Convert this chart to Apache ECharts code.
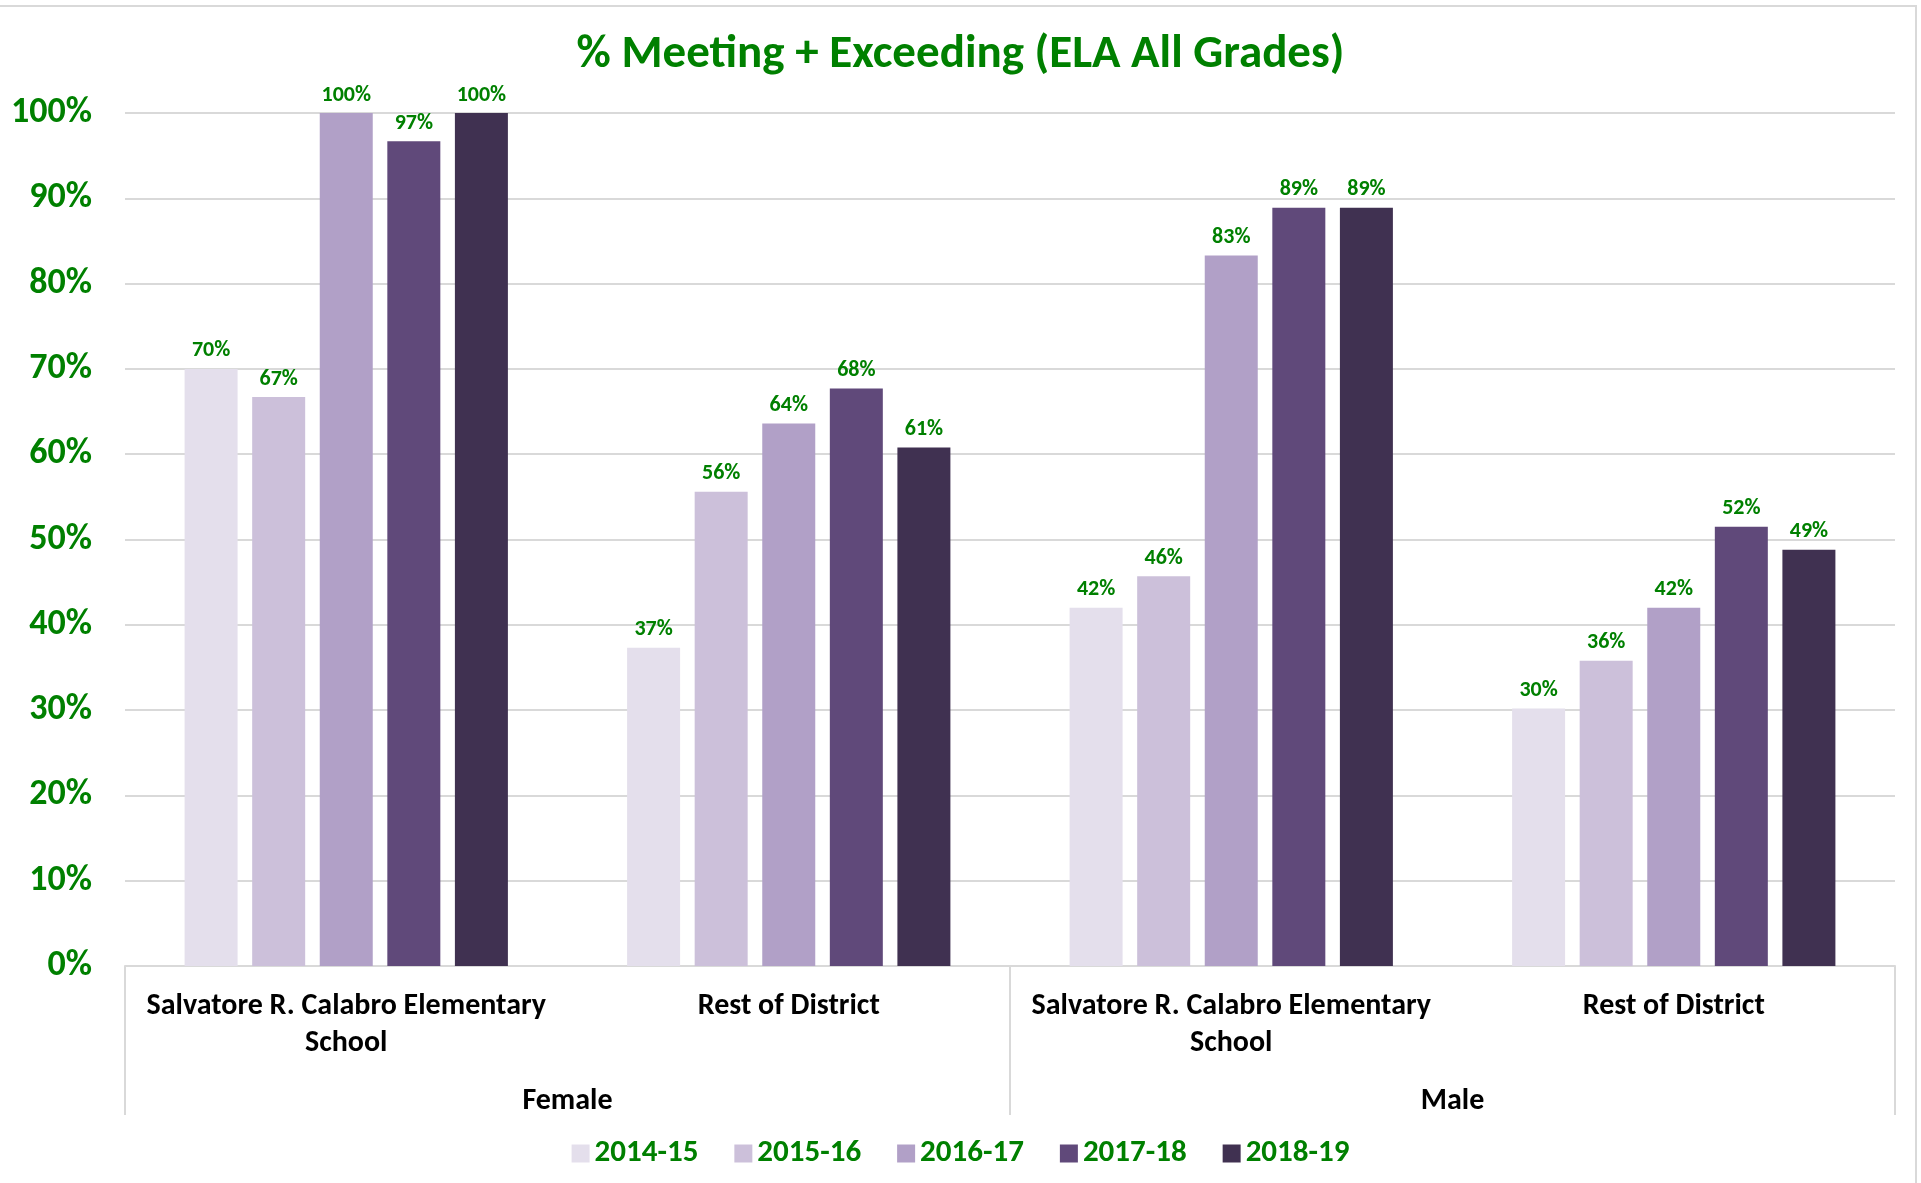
<!DOCTYPE html>
<html>
<head>
<meta charset="utf-8">
<title>% Meeting + Exceeding (ELA All Grades)</title>
<script src="https://cdn.jsdelivr.net/npm/echarts@6/dist/echarts.min.js"></script>
<style>
  html, body { margin: 0; padding: 0; background: #fff; }
  #chart { width: 1921px; height: 1183px; }
</style>
</head>
<body>
<div id="chart"></div>
<script>
// data
const schools = ['Salvatore R. Calabro Elementary\nSchool', 'Rest of District', 'Salvatore R. Calabro Elementary\nSchool', 'Rest of District']
const genders = ['Female', 'Male']
const years = ['2014-15', '2015-16', '2016-17', '2017-18', '2018-19']
const y2014 = [70.0, 37.3, 42.0, 30.2]
const y2015 = [66.7, 55.6, 45.7, 35.8]
const y2016 = [100, 63.6, 83.3, 42.0]
const y2017 = [96.7, 67.7, 88.9, 51.5]
const y2018 = [100, 60.8, 88.9, 48.8]
const colors = ['#E4DFEC', '#CCC0DA', '#B1A0C7', '#60497A', '#403151']

const FONT = 'Carlito, Lato, sans-serif'
const GREEN = '#008000'
const LINE = '#d9d9d9'

const values = [y2014, y2015, y2016, y2017, y2018]

const chart = echarts.init(document.getElementById('chart'))

const option = {
  animation: false,
  textStyle: { fontFamily: FONT },
  title: {
    text: '% Meeting + Exceeding (ELA All Grades)',
    left: 'center',
    top: 27,
    textStyle: { color: GREEN, fontSize: 47, fontWeight: 'bold', fontFamily: FONT }
  },
  legend: {
    data: years,
    left: 'center',
    top: 1133,
    itemWidth: 18,
    itemHeight: 18,
    itemGap: 36,
    icon: 'rect',
    textStyle: { color: GREEN, fontSize: 31, fontWeight: 'bold', fontFamily: FONT }
  },
  grid: { left: 125, right: 26, top: 113, bottom: 217 },
  xAxis: [
    {
      type: 'category',
      data: schools,
      axisLine: { lineStyle: { color: LINE, width: 2 } },
      axisTick: { show: false },
      axisLabel: {
        color: '#000', fontSize: 30, fontWeight: 'bold', fontFamily: FONT,
        lineHeight: 37, margin: 22, interval: 0
      }
    },
    {
      type: 'category',
      data: genders,
      position: 'bottom',
      axisLine: { show: false },
      axisTick: { show: true, length: 149, lineStyle: { color: LINE, width: 2 } },
      axisLabel: {
        color: '#000', fontSize: 30, fontWeight: 'bold', fontFamily: FONT,
        lineHeight: 32, margin: 119
      }
    }
  ],
  yAxis: {
    type: 'value',
    min: 0,
    max: 100,
    interval: 10,
    axisLine: { show: false },
    axisTick: { show: false },
    splitLine: { lineStyle: { color: LINE, width: 2 } },
    axisLabel: {
      formatter: '{value}%',
      color: GREEN, fontSize: 36, fontWeight: 'bold', fontFamily: FONT, margin: 33,
      padding: [4, 0, 0, 0]
    }
  },
  series: years.map((name, i) => ({
    name: name,
    type: 'bar',
    xAxisIndex: 0,
    data: values[i],
    barWidth: 53,
    barGap: '27.5%',
    itemStyle: { color: colors[i] },
    label: {
      show: true,
      position: 'top',
      distance: 7,
      formatter: p => Math.round(p.value) + '%',
      color: GREEN, fontSize: 22, fontWeight: 'bold', fontFamily: FONT
    }
  })),
  graphic: [
    {
      type: 'rect',
      shape: { x: -2, y: 6, width: 1918, height: 1190 },
      style: { fill: 'none', stroke: LINE, lineWidth: 2 },
      silent: true
    }
  ]
}

chart.setOption(option)
window.addEventListener('resize', () => chart && chart.resize())
</script>
</body>
</html>
